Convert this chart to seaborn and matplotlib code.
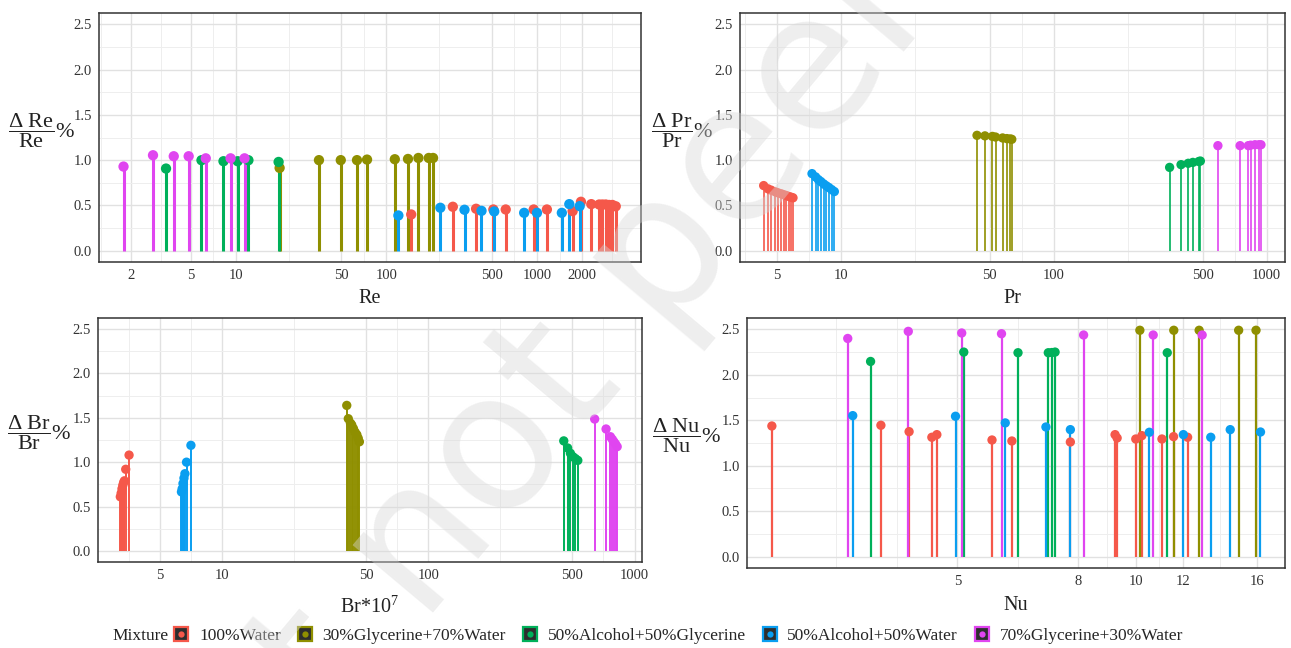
import matplotlib
matplotlib.use("Agg")
import numpy as np
import pandas as pd
import matplotlib.pyplot as plt
import seaborn as sns
from matplotlib.lines import Line2D
from matplotlib.ticker import FixedLocator, FixedFormatter, NullFormatter

# ---------------- data ----------------
mixtures = ["100%Water", "30%Glycerine+70%Water", "50%Alcohol+50%Glycerine",
            "50%Alcohol+50%Water", "70%Glycerine+30%Water"]
palette = ["#F5584A", "#8F8F00", "#00B05A", "#0A9EF0", "#E045F0"]

# Re panel
re_x = {
    "100%Water": [146, 276, 394, 513, 620, 951, 1164, 1726, 1960, 2296, 2590, 2723, 2866, 3015, 3172, 3338],
    "30%Glycerine+70%Water": [19.5, 35.6, 49.7, 63.7, 74.3, 113.6, 139, 163, 191, 204],
    "50%Alcohol+50%Glycerine": [3.43, 5.90, 8.26, 10.26, 12.1, 19.2],
    "50%Alcohol+50%Water": [120, 228, 330, 428, 520, 822, 1000, 1463, 1640, 1922],
    "70%Glycerine+30%Water": [1.79, 2.81, 3.86, 4.85, 6.30, 9.21, 11.4],
}
re_y = {
    "100%Water": [0.40, 0.485, 0.463, 0.455, 0.455, 0.455, 0.455, 0.437, 0.54, 0.514, 0.51, 0.51, 0.51, 0.505, 0.505, 0.49],
    "30%Glycerine+70%Water": [0.914, 1.0, 1.0, 1.0, 1.006, 1.01, 1.013, 1.024, 1.024, 1.024],
    "50%Alcohol+50%Glycerine": [0.907, 0.999, 0.988, 0.988, 0.999, 0.98],
    "50%Alcohol+50%Water": [0.389, 0.474, 0.452, 0.44, 0.433, 0.418, 0.418, 0.418, 0.514, 0.492],
    "70%Glycerine+30%Water": [0.929, 1.054, 1.043, 1.043, 1.02, 1.02, 1.02],
}

# Pr panel
pr_x = {
    "100%Water": [4.34, 4.55, 4.71, 4.92, 5.07, 5.25, 5.41, 5.55, 5.71, 5.85, 5.96],
    "30%Glycerine+70%Water": [43.6, 47.5, 51.5, 53.3, 57.5, 60.2, 62.4, 63.5],
    "50%Alcohol+50%Glycerine": [350, 396, 428, 450, 480, 488],
    "50%Alcohol+50%Water": [7.32, 7.61, 7.84, 8.06, 8.30, 8.55, 8.79, 9.05, 9.32],
    "70%Glycerine+30%Water": [590, 750, 820, 841, 881, 919, 940],
}
pr_y = {
    "100%Water": [0.719, 0.683, 0.668, 0.65, 0.639, 0.628, 0.617, 0.609, 0.598, 0.59, 0.584],
    "30%Glycerine+70%Water": [1.274, 1.268, 1.262, 1.255, 1.245, 1.238, 1.234, 1.23],
    "50%Alcohol+50%Glycerine": [0.92, 0.95, 0.965, 0.975, 0.985, 0.99],
    "50%Alcohol+50%Water": [0.851, 0.815, 0.785, 0.763, 0.738, 0.716, 0.697, 0.675, 0.653],
    "70%Glycerine+30%Water": [1.16, 1.16, 1.16, 1.165, 1.17, 1.17, 1.17],
}

# Br panel (Br*10^7)
br_x = {
    "100%Water": [3.22, 3.25, 3.28, 3.31, 3.34, 3.37, 3.42, 3.55],
    "30%Glycerine+70%Water": [40.3, 41.0, 42.0, 42.6, 43.4, 44.2, 45.1, 45.8, 46.4],
    "50%Alcohol+50%Glycerine": [454, 474, 489, 504, 517, 531],
    "50%Alcohol+50%Water": [6.37, 6.42, 6.48, 6.55, 6.62, 6.74, 7.08],
    "70%Glycerine+30%Water": [641, 728, 764, 780, 794, 809, 824],
}
br_y = {
    "100%Water": [0.61, 0.65, 0.70, 0.74, 0.77, 0.79, 0.92, 1.08],
    "30%Glycerine+70%Water": [1.64, 1.49, 1.44, 1.42, 1.38, 1.34, 1.31, 1.27, 1.23],
    "50%Alcohol+50%Glycerine": [1.24, 1.16, 1.10, 1.06, 1.04, 1.02],
    "50%Alcohol+50%Water": [0.665, 0.70, 0.76, 0.82, 0.87, 1.0, 1.19],
    "70%Glycerine+30%Water": [1.486, 1.374, 1.287, 1.258, 1.231, 1.205, 1.175],
}

# Nu panel
nu_x = {
    "100%Water": [2.434, 3.717, 4.147, 4.530, 4.619, 5.722, 6.181, 7.757, 9.227, 9.302, 10.0, 10.24, 11.07, 11.58, 12.23],
    "30%Glycerine+70%Water": [10.16, 11.59, 12.79, 14.91, 15.95],
    "50%Alcohol+50%Glycerine": [3.571, 5.128, 6.33, 7.12, 7.22, 7.31, 11.30],
    "50%Alcohol+50%Water": [3.332, 4.966, 6.024, 7.055, 7.757, 10.54, 12.03, 13.38, 14.43, 16.23],
    "70%Glycerine+30%Water": [3.268, 4.134, 5.087, 5.937, 8.166, 10.70, 12.94],
}
nu_y = {
    "100%Water": [1.437, 1.445, 1.375, 1.313, 1.342, 1.283, 1.272, 1.261, 1.342, 1.305, 1.294, 1.331, 1.294, 1.320, 1.313],
    "30%Glycerine+70%Water": [2.49, 2.49, 2.49, 2.49, 2.49],
    "50%Alcohol+50%Glycerine": [2.147, 2.25, 2.243, 2.243, 2.245, 2.25, 2.243],
    "50%Alcohol+50%Water": [1.551, 1.544, 1.471, 1.426, 1.397, 1.368, 1.342, 1.313, 1.397, 1.371],
    "70%Glycerine+30%Water": [2.40, 2.478, 2.46, 2.452, 2.438, 2.438, 2.438],
}

re_ticks = [2, 5, 10, 50, 100, 500, 1000, 2000]
pr_ticks = [5, 10, 50, 100, 500, 1000]
br_ticks = [5, 10, 50, 100, 500, 1000]
nu_ticks = [5, 8, 10, 12, 16]
y_ticks = [0.0, 0.5, 1.0, 1.5, 2.0, 2.5]
y_ticklabels = ["0.0", "0.5", "1.0", "1.5", "2.0", "2.5"]

# ---------------- style ----------------
sns.set_style("white")
plt.rcParams.update({
    "font.family": ["Liberation Serif", "DejaVu Serif"],
    "mathtext.fontset": "custom",
    "mathtext.rm": "Liberation Serif",
    "mathtext.it": "Liberation Serif:italic",
    "mathtext.bf": "Liberation Serif:bold",
})

W, H = 1291, 648
fig = plt.figure(figsize=(W / 100, H / 100), dpi=100)


def px_axes(l, t, r, b):
    return fig.add_axes([l / W, 1 - b / H, (r - l) / W, (b - t) / H])


def minor_breaks(major, lo, hi):
    lb = list(np.log10(major))
    d = lb[1] - lb[0]
    if np.log10(lo) < lb[0]:
        lb = [lb[0] - d] + lb
    if np.log10(hi) > lb[-1]:
        lb = lb + [lb[-1] + d]
    out = []
    for a, b in zip(lb[:-1], lb[1:]):
        out += [a, (a + b) / 2]
    out.append(lb[-1])
    vals = 10 ** np.array(out)
    return [v for v in vals if lo < v < hi and not np.any(np.isclose(v, major))]


def panel(ax, xs, ys, lw, s, ticks, xlim, xlabel, ylabel, xlab_y, ylab_xy):
    rows = []
    for m in mixtures:
        for x, y in zip(xs[m], ys[m]):
            rows.append((m, x, y))
    df = pd.DataFrame(rows, columns=["Mixture", "x", "y"])
    for m, c in zip(mixtures, palette):
        d = df[df["Mixture"] == m]
        ax.vlines(d["x"], 0, d["y"], color=c, lw=lw, zorder=2)
    sns.scatterplot(data=df, x="x", y="y", hue="Mixture", hue_order=mixtures,
                    palette=palette, s=s, edgecolor="none", linewidth=0,
                    legend=False, ax=ax, zorder=3)
    ax.set_xscale("log")
    ax.set_xlim(*xlim)
    ax.set_ylim(-0.125, 2.625)
    ax.xaxis.set_major_locator(FixedLocator(ticks))
    ax.xaxis.set_major_formatter(FixedFormatter([str(t) for t in ticks]))
    ax.xaxis.set_minor_locator(FixedLocator(minor_breaks(ticks, *xlim)))
    ax.xaxis.set_minor_formatter(NullFormatter())
    ax.yaxis.set_major_locator(FixedLocator(y_ticks))
    ax.yaxis.set_major_formatter(FixedFormatter(y_ticklabels))
    ax.yaxis.set_minor_locator(FixedLocator([0.25, 0.75, 1.25, 1.75, 2.25]))
    ax.yaxis.set_minor_formatter(NullFormatter())
    ax.grid(which="major", color="#E1E1E1", lw=1.0)
    ax.grid(which="minor", color="#EEEEEE", lw=0.7)
    ax.set_axisbelow(True)
    ax.tick_params(which="major", direction="out", length=3, width=0.8,
                   color="#333333", labelsize=10.5, labelcolor="#333333", pad=2)
    ax.tick_params(which="minor", length=0)
    for sp in ax.spines.values():
        sp.set_color("#333333")
        sp.set_linewidth(1.1)
        sp.set_visible(True)
    ax.set_xlabel(xlabel, fontsize=14.5, color="#222222")
    ax.xaxis.set_label_coords(0.5, xlab_y)
    ax.xaxis.label.set_va("center")
    ax.set_ylabel(ylabel, fontsize=16, rotation=0, color="#222222")
    ax.yaxis.set_label_coords(*ylab_xy)
    ax.yaxis.label.set_ha("center")
    ax.yaxis.label.set_va("center")


ax_re = px_axes(99, 13, 641, 262)
ax_pr = px_axes(740, 13, 1285, 262)
ax_br = px_axes(98, 318, 642, 562)
ax_nu = px_axes(747, 318, 1285, 568)

panel(ax_re, re_x, re_y, 2.2, 55, re_ticks, (1.23, 4912), "Re",
      r"$\dfrac{\Delta\ \mathrm{Re}}{\mathrm{Re}}\%$", -0.145, (-0.107, 0.53))
panel(ax_pr, pr_x, pr_y, 1.2, 45, pr_ticks, (3.36, 1219), "Pr",
      r"$\dfrac{\Delta\ \mathrm{Pr}}{\mathrm{Pr}}\%$", -0.145, (-0.106, 0.53))
panel(ax_br, br_x, br_y, 1.4, 45, br_ticks, (2.51, 1087), r"Br*10$^{7}$",
      r"$\dfrac{\Delta\ \mathrm{Br}}{\mathrm{Br}}\%$", -0.185, (-0.108, 0.529))
panel(ax_nu, nu_x, nu_y, 1.6, 45, nu_ticks, (2.21, 17.85), "Nu",
      r"$\dfrac{\Delta\ \mathrm{Nu}}{\mathrm{Nu}}\%$", -0.148, (-0.113, 0.528))

# ---------------- legend ----------------
handles = []
for c in palette:
    sq = Line2D([], [], linestyle="none", marker="s", markersize=10.5,
                markerfacecolor="#2E2E2E", markeredgecolor=c, markeredgewidth=1.6)
    dot = Line2D([], [], linestyle="none", marker="o", markersize=4.5,
                 markerfacecolor=c, markeredgecolor="none")
    handles.append((sq, dot))
fig.text(112 / W, 1 - 636 / H, "Mixture", fontsize=12.5, va="center", ha="left",
         color="#222222")
fig.legend(handles, mixtures, loc="center left", bbox_to_anchor=(174 / W, 1 - 636 / H),
           ncol=5, frameon=False, fontsize=12.5, handlelength=0.85,
           handletextpad=0.6, columnspacing=0.95, borderaxespad=0, borderpad=0)

# ---------------- watermark ----------------
fig.text(680 / W, 1 - 235 / H, "Preprint not peer reviewed", fontsize=138,
         family="DejaVu Sans", color="#D8D8D8", alpha=0.42, rotation=50,
         ha="center", va="center", zorder=100)

fig.savefig("out.png", dpi=100)
